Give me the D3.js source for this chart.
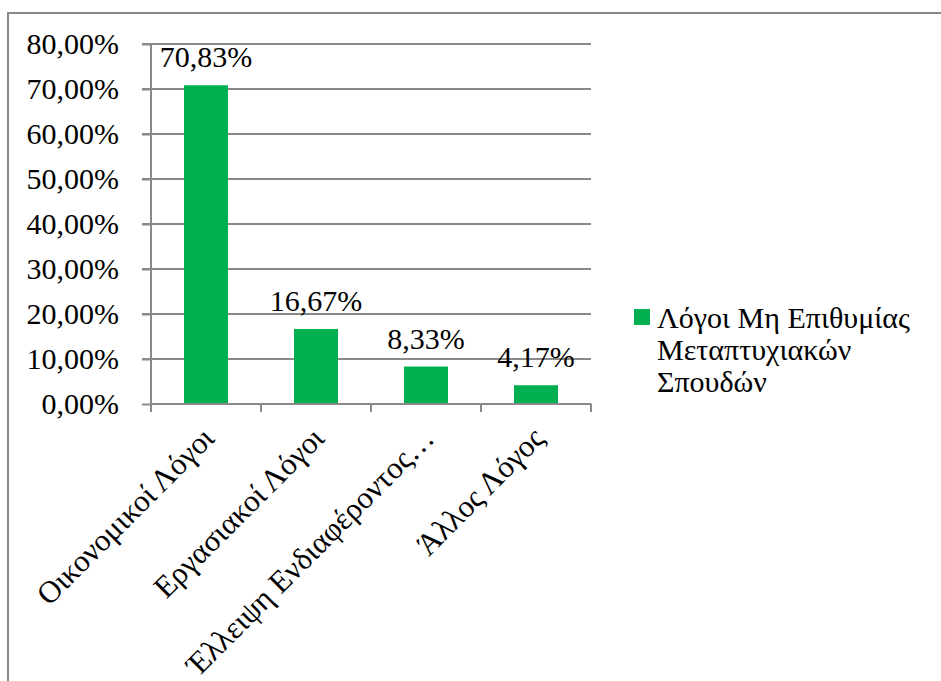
<!DOCTYPE html>
<html>
<head>
<meta charset="utf-8">
<script src="https://cdn.jsdelivr.net/npm/d3@7"></script>
<style>
  body { margin: 0; background: #fff; }
</style>
</head>
<body>
<div id="chart"></div>
<script>
// data
const categories = ["Οικονομικοί Λόγοι", "Εργασιακοί Λόγοι", "Έλλειψη Ενδιαφέροντος…", "Άλλος Λόγος"];
const values = [70.83, 16.67, 8.33, 4.17];
const yTicks = [0, 10, 20, 30, 40, 50, 60, 70, 80];
const seriesName = ["Λόγοι Μη Επιθυμίας", "Μεταπτυχιακών", "Σπουδών"];

const W = 941, H = 681;
const margin = { top: 44, left: 151, right: 350, bottom: 277 };
const width = W - margin.left - margin.right,
      height = H - margin.top - margin.bottom;

const FONT = '"Liberation Serif"';
const FS = "30px";
const fmt = v => v.toFixed(2).replace(".", ",") + "%";
const green = "#00b050", grey = "#898989";

const svg = d3.select("#chart").append("svg")
  .attr("width", W).attr("height", H);

// outer chart border
svg.append("rect")
  .attr("x", 8).attr("y", 13).attr("width", W + 20).attr("height", H + 20)
  .attr("fill", "none").attr("stroke", grey).attr("stroke-width", 2);

const g = svg.append("g").attr("transform", `translate(${margin.left},${margin.top})`);

const x = d3.scaleBand().domain(categories).range([0, width]).paddingInner(0.6).paddingOuter(0.3);
const y = d3.scaleLinear().domain([0, 80]).range([height, 0]);

// gridlines
g.append("g").selectAll("line").data(yTicks.slice(1)).enter().append("line")
  .attr("x1", -9).attr("x2", width)
  .attr("y1", d => y(d)).attr("y2", d => y(d))
  .attr("stroke", grey).attr("stroke-width", 2);

// y axis
const yAxis = g.append("g")
  .call(d3.axisLeft(y).tickValues(yTicks).tickSize(9).tickPadding(23).tickFormat(d => fmt(d)));
yAxis.select(".domain").attr("stroke", grey).attr("stroke-width", 2).attr("d", `M0,0V${height}`);
yAxis.selectAll(".tick line").attr("stroke", grey).attr("stroke-width", 2);
yAxis.selectAll("text").style("font-family", FONT).style("font-size", FS).attr("fill", "#000");

// bars
g.selectAll("rect.bar").data(values).enter().append("rect")
  .attr("class", "bar")
  .attr("x", (d, i) => x(categories[i]))
  .attr("y", d => y(d))
  .attr("width", x.bandwidth())
  .attr("height", d => height - y(d))
  .attr("fill", green);

// x axis
const band = width / categories.length;
const xAxis = g.append("g").attr("transform", `translate(0,${height})`);
xAxis.append("line").attr("x1", 0).attr("x2", width).attr("y1", 0).attr("y2", 0)
  .attr("stroke", grey).attr("stroke-width", 2);
xAxis.selectAll("line.tk").data(d3.range(categories.length + 1)).enter().append("line")
  .attr("class", "tk")
  .attr("x1", i => i * band).attr("x2", i => i * band)
  .attr("y1", 0).attr("y2", 8)
  .attr("stroke", grey).attr("stroke-width", 2);

xAxis.selectAll("text.lbl").data(categories).enter().append("text")
  .attr("class", "lbl")
  .attr("text-anchor", "end")
  .attr("transform", d => `translate(${x(d) + x.bandwidth() / 2 + 10},${36}) rotate(-45)`)
  .style("font-family", FONT).style("font-size", "31px")
  .text(d => d);

// data labels
g.selectAll("text.val").data(values).enter().append("text")
  .attr("class", "val")
  .attr("x", (d, i) => x(categories[i]) + x.bandwidth() / 2)
  .attr("y", d => y(d) - 18)
  .attr("text-anchor", "middle")
  .style("font-family", FONT).style("font-size", FS)
  .text(d => fmt(d));

// legend
const legend = svg.append("g").attr("transform", "translate(634,309)");
legend.append("rect").attr("width", 16).attr("height", 16).attr("fill", green);
legend.selectAll("text").data(seriesName).enter().append("text")
  .attr("x", 23).attr("y", (d, i) => 19 + i * 32)
  .style("font-family", FONT).style("font-size", FS)
  .text(d => d);
</script>
</body>
</html>
